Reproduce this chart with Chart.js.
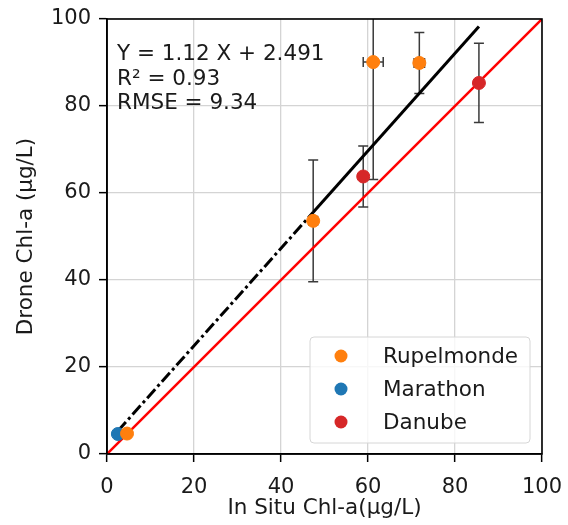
<!DOCTYPE html>
<html><head><meta charset="utf-8">
<script src="https://cdn.jsdelivr.net/npm/chart.js@4/dist/chart.umd.min.js"></script>
<style>html,body{margin:0;padding:0;background:#fff}#w{width:568px;height:525px}</style>
</head><body><div id="w"><canvas id="c" width="568" height="525"></canvas></div>
<script>
// ---- data ----
const rupX = [4.6, 47.4, 61.2, 71.8];
const rupY = [4.7, 53.6, 90.1, 89.9];
const rupXerr = [0, 1.0, 2.3, 1.2];
const rupYerr = [0, 14.0, 27.0, 7.0];
const marX = [2.5];
const marY = [4.6];
const marXerr = [0];
const marYerr = [0];
const danX = [58.9, 85.5];
const danY = [63.8, 85.3];
const danXerr = [0, 0];
const danYerr = [7.0, 9.1];
const seriesNames = ['Rupelmonde', 'Marathon', 'Danube'];
const fitSlope = 1.12, fitIntercept = 2.491;
const fitDashX = [2.5, 47.4];
const fitSolidX = [47.4, 85.5];
const oneToOne = [0, 100];
const tickVals = [0, 20, 40, 60, 80, 100];
const statLines = ['Y = 1.12 X + 2.491', 'R\u00b2 = 0.93', 'RMSE = 9.34'];

const C_OR = '#ff7f0e', C_BL = '#1f77b4', C_RD = '#d62728';
const F = 'DejaVu Sans';
const pts = (xs, ys) => xs.map((x, i) => ({x, y: ys[i]}));
const fit = xs => xs.map(x => ({x, y: fitSlope * x + fitIntercept}));

const errSets = [
  {xs: rupX, ys: rupY, xe: rupXerr, ye: rupYerr},
  {xs: marX, ys: marY, xe: marXerr, ye: marYerr},
  {xs: danX, ys: danY, xe: danXerr, ye: danYerr}
];

const errorBars = {
  id: 'errorBars',
  beforeDatasetsDraw(chart) {
    const {ctx, scales: {x, y}, chartArea: a} = chart;
    ctx.save();
    ctx.beginPath(); ctx.rect(a.left, a.top, a.right - a.left, a.bottom - a.top); ctx.clip();
    ctx.strokeStyle = '#3a3a3a'; ctx.lineWidth = 1.5;
    const cap = 5;
    errSets.forEach(s => s.xs.forEach((xv, i) => {
      const px = x.getPixelForValue(xv), py = y.getPixelForValue(s.ys[i]);
      if (s.ye[i] > 0) {
        const t = y.getPixelForValue(s.ys[i] + s.ye[i]), b = y.getPixelForValue(s.ys[i] - s.ye[i]);
        ctx.beginPath(); ctx.moveTo(px, t); ctx.lineTo(px, b);
        ctx.moveTo(px - cap, t); ctx.lineTo(px + cap, t);
        ctx.moveTo(px - cap, b); ctx.lineTo(px + cap, b); ctx.stroke();
      }
      if (s.xe[i] > 0) {
        const l = x.getPixelForValue(xv - s.xe[i]), r = x.getPixelForValue(xv + s.xe[i]);
        ctx.beginPath(); ctx.moveTo(l, py); ctx.lineTo(r, py);
        ctx.moveTo(l, py - cap); ctx.lineTo(l, py + cap);
        ctx.moveTo(r, py - cap); ctx.lineTo(r, py + cap); ctx.stroke();
      }
    }));
    ctx.restore();
  }
};

const frameAndText = {
  id: 'frameAndText',
  afterDraw(chart) {
    const {ctx, chartArea: a} = chart;
    ctx.save();
    ctx.strokeStyle = '#000'; ctx.lineWidth = 1.6;
    ctx.strokeRect(a.left, a.top, a.right - a.left, a.bottom - a.top);
    // stats text
    ctx.fillStyle = '#1a1a1a'; ctx.font = '21.5px "' + F + '"'; ctx.textBaseline = 'alphabetic'; ctx.textAlign = 'left';
    statLines.forEach((t, i) => ctx.fillText(t, 117, 60 + i * 24.5));
    // legend
    const lx = 310, ly = 337, lw = 220, lh = 106, r = 4;
    ctx.beginPath();
    ctx.moveTo(lx + r, ly); ctx.lineTo(lx + lw - r, ly); ctx.quadraticCurveTo(lx + lw, ly, lx + lw, ly + r);
    ctx.lineTo(lx + lw, ly + lh - r); ctx.quadraticCurveTo(lx + lw, ly + lh, lx + lw - r, ly + lh);
    ctx.lineTo(lx + r, ly + lh); ctx.quadraticCurveTo(lx, ly + lh, lx, ly + lh - r);
    ctx.lineTo(lx, ly + r); ctx.quadraticCurveTo(lx, ly, lx + r, ly); ctx.closePath();
    ctx.fillStyle = 'rgba(255,255,255,0.8)'; ctx.fill();
    ctx.strokeStyle = '#d6d6d6'; ctx.lineWidth = 1; ctx.stroke();
    const cols = [C_OR, C_BL, C_RD];
    ctx.font = '21.5px "' + F + '"'; ctx.textBaseline = 'middle';
    seriesNames.forEach((n, i) => {
      const cy = 356 + i * 33;
      ctx.beginPath(); ctx.arc(341, cy, 6.5, 0, Math.PI * 2); ctx.fillStyle = cols[i]; ctx.fill();
      ctx.fillStyle = '#1a1a1a'; ctx.fillText(n, 383, cy + 1);
    });
    ctx.restore();
  }
};

const axisCommon = (title, isY) => ({
  type: 'linear', min: 0, max: 100,
  afterBuildTicks: s => { s.ticks = tickVals.map(v => ({value: v})); },
  ticks: {font: {family: F, size: 21}, color: '#1a1a1a', padding: isY ? 8 : 13, maxRotation: 0, autoSkip: false},
  grid: {color: '#d4d4d4', lineWidth: 1.3, tickColor: '#000', tickLength: 8, tickWidth: 1.5},
  border: {color: '#000', width: 1.6},
  title: {display: true, text: title, font: {family: F, size: 21.5}, color: '#1a1a1a',
          padding: isY ? {top: 14, bottom: 0} : {top: 0, bottom: 4}},
  afterFit: s => {
    if (isY) s.width = 107; else s.height = 71;
    s.paddingLeft = 0; s.paddingRight = 0; s.paddingTop = 0; s.paddingBottom = 0;
  }
});

new Chart(document.getElementById('c'), {
  type: 'scatter',
  data: {datasets: [
    {label: seriesNames[0], data: pts(rupX, rupY), backgroundColor: C_OR, borderColor: C_OR, pointRadius: 6.5, order: 1},
    {label: seriesNames[1], data: pts(marX, marY), backgroundColor: C_BL, borderColor: C_BL, pointRadius: 6.5, order: 1},
    {label: seriesNames[2], data: pts(danX, danY), backgroundColor: C_RD, borderColor: C_RD, pointRadius: 6.5, order: 1},
    {label: 'fitSolid', data: fit(fitSolidX), showLine: true, borderColor: '#000', borderWidth: 3, pointRadius: 0, order: 2},
    {label: 'fitDash', data: fit(fitDashX), showLine: true, borderColor: '#000', borderWidth: 3, borderDash: [12, 3.5, 3, 3.5], pointRadius: 0, order: 2},
    {label: '1:1', data: pts(oneToOne, oneToOne), showLine: true, borderColor: '#ff0000', borderWidth: 2.5, pointRadius: 0, order: 3}
  ]},
  options: {
    responsive: false, animation: false, devicePixelRatio: 1,
    layout: {padding: {left: 0, right: 26, top: 19, bottom: 0}},
    plugins: {legend: {display: false}, tooltip: {enabled: false}},
    scales: {x: axisCommon('In Situ Chl-a(\u00b5g/L)', false), y: axisCommon('Drone Chl-a (\u00b5g/L)', true)}
  },
  plugins: [errorBars, frameAndText]
});
</script></body></html>
